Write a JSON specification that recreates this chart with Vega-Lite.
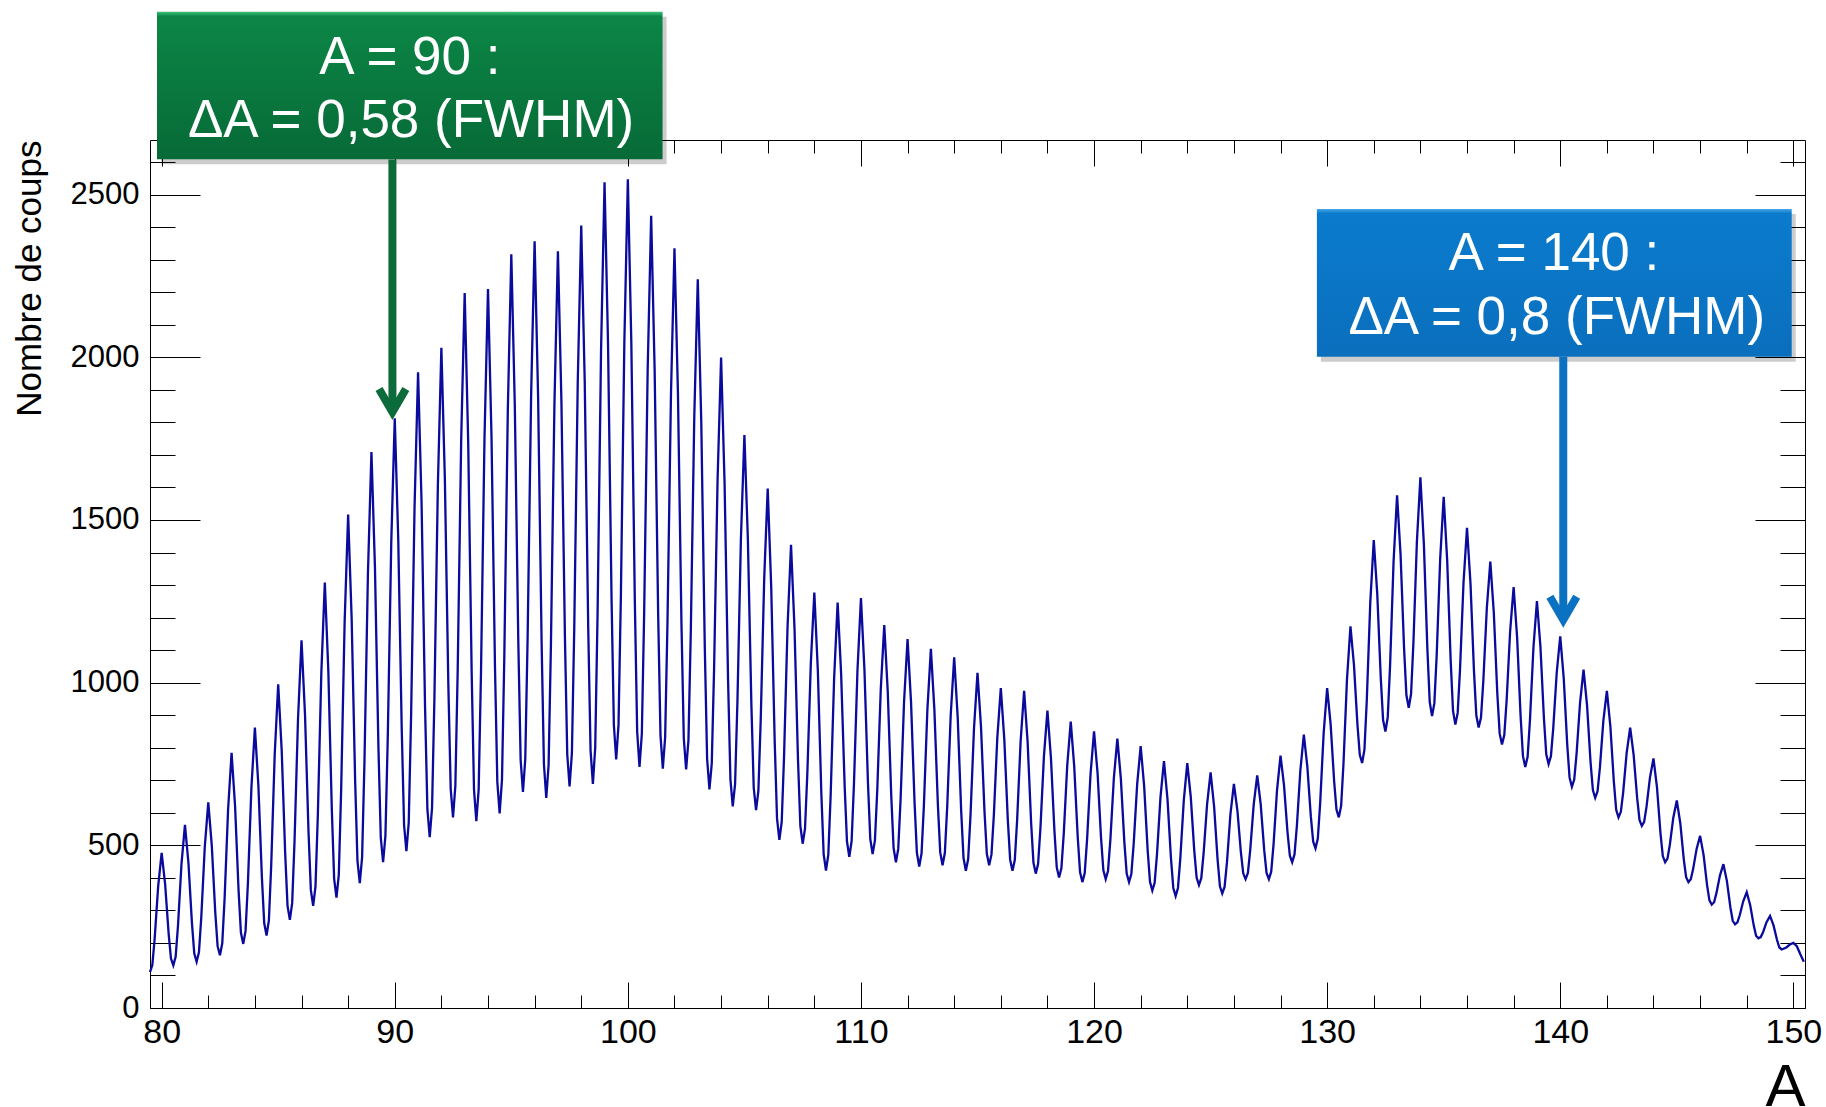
{
  "$schema": "https://vega.github.io/schema/vega-lite/v6.json",
  "width": 1655,
  "height": 868,
  "autosize": "none",
  "padding": {"left": 150, "top": 140, "right": 21, "bottom": 99},
  "background": "white",
  "config": {
    "view": {"stroke": "#000", "strokeWidth": 1},
    "font": "Liberation Sans",
    "axis": {"domain": false, "grid": false, "tickColor": "#000", "tickWidth": 1, "labelFont": "Liberation Sans", "titleFont": "Liberation Sans", "labelColor": "#000", "titleColor": "#000", "titleFontWeight": "normal", "labelOverlap": false, "labelFlush": false}
  },
  "resolve": {"axis": {"x": "independent", "y": "independent"}},
  "layer": [
    {
      "data": {"values": [
        {"a":79.5,"n":110},{"a":79.6,"n":132},{"a":79.7,"n":213},{"a":79.85,"n":374},{"a":80,"n":477},{"a":80.15,"n":380},{"a":80.3,"n":228},{"a":80.4,"n":152},{"a":80.5,"n":131},
        {"a":80.6,"n":157},{"a":80.7,"n":252},{"a":80.85,"n":442},{"a":81,"n":563},{"a":81.15,"n":445},{"a":81.3,"n":260},{"a":81.4,"n":167},{"a":81.5,"n":142},
        {"a":81.6,"n":171},{"a":81.7,"n":279},{"a":81.85,"n":495},{"a":82,"n":632},{"a":82.15,"n":500},{"a":82.3,"n":294},{"a":82.4,"n":190},{"a":82.5,"n":162},
        {"a":82.6,"n":199},{"a":82.7,"n":336},{"a":82.85,"n":610},{"a":83,"n":784},{"a":83.15,"n":620},{"a":83.3,"n":361},{"a":83.4,"n":232},{"a":83.5,"n":197},
        {"a":83.6,"n":237},{"a":83.7,"n":383},{"a":83.85,"n":676},{"a":84,"n":862},{"a":84.15,"n":683},{"a":84.3,"n":402},{"a":84.4,"n":261},{"a":84.5,"n":223},
        {"a":84.6,"n":269},{"a":84.7,"n":439},{"a":84.85,"n":779},{"a":85,"n":995},{"a":85.15,"n":792},{"a":85.3,"n":474},{"a":85.4,"n":314},{"a":85.5,"n":271},
        {"a":85.6,"n":323},{"a":85.7,"n":512},{"a":85.85,"n":889},{"a":86,"n":1130},{"a":86.15,"n":902},{"a":86.3,"n":542},{"a":86.4,"n":363},{"a":86.5,"n":314},
        {"a":86.6,"n":374},{"a":86.7,"n":592},{"a":86.85,"n":1030},{"a":87,"n":1308},{"a":87.15,"n":1037},{"a":87.3,"n":610},{"a":87.4,"n":397},{"a":87.5,"n":339},
        {"a":87.6,"n":410},{"a":87.7,"n":669},{"a":87.85,"n":1187},{"a":88,"n":1517},{"a":88.15,"n":1200},{"a":88.3,"n":701},{"a":88.4,"n":452},{"a":88.5,"n":384},
        {"a":88.6,"n":464},{"a":88.7,"n":755},{"a":88.85,"n":1338},{"a":89,"n":1709},{"a":89.15,"n":1356},{"a":89.3,"n":801},{"a":89.4,"n":524},{"a":89.5,"n":448},
        {"a":89.6,"n":530},{"a":89.7,"n":830},{"a":89.85,"n":1431},{"a":90,"n":1813},{"a":90.15,"n":1440},{"a":90.3,"n":855},{"a":90.4,"n":562},{"a":90.5,"n":482},
        {"a":90.6,"n":570},{"a":90.7,"n":894},{"a":90.85,"n":1542},{"a":91,"n":1954},{"a":91.15,"n":1554},{"a":91.3,"n":925},{"a":91.4,"n":611},{"a":91.5,"n":525},
        {"a":91.6,"n":615},{"a":91.7,"n":946},{"a":91.85,"n":1608},{"a":92,"n":2029},{"a":92.15,"n":1625},{"a":92.3,"n":990},{"a":92.4,"n":673},{"a":92.5,"n":586},
        {"a":92.6,"n":683},{"a":92.7,"n":1037},{"a":92.85,"n":1747},{"a":93,"n":2198},{"a":93.15,"n":1743},{"a":93.3,"n":1029},{"a":93.4,"n":671},{"a":93.5,"n":574},
        {"a":93.6,"n":672},{"a":93.7,"n":1032},{"a":93.85,"n":1752},{"a":94,"n":2210},{"a":94.15,"n":1759},{"a":94.3,"n":1049},{"a":94.4,"n":695},{"a":94.5,"n":598},
        {"a":94.6,"n":701},{"a":94.7,"n":1079},{"a":94.85,"n":1836},{"a":95,"n":2317},{"a":95.15,"n":1854},{"a":95.3,"n":1127},{"a":95.4,"n":763},{"a":95.5,"n":664},
        {"a":95.6,"n":766},{"a":95.7,"n":1138},{"a":95.85,"n":1883},{"a":96,"n":2357},{"a":96.15,"n":1878},{"a":96.3,"n":1125},{"a":96.4,"n":749},{"a":96.5,"n":646},
        {"a":96.6,"n":747},{"a":96.7,"n":1116},{"a":96.85,"n":1856},{"a":97,"n":2326},{"a":97.15,"n":1865},{"a":97.3,"n":1142},{"a":97.4,"n":780},{"a":97.5,"n":681},
        {"a":97.6,"n":784},{"a":97.7,"n":1164},{"a":97.85,"n":1922},{"a":98,"n":2405},{"a":98.15,"n":1925},{"a":98.3,"n":1169},{"a":98.4,"n":792},{"a":98.5,"n":689},
        {"a":98.6,"n":800},{"a":98.7,"n":1207},{"a":98.85,"n":2020},{"a":99,"n":2538},{"a":99.15,"n":2041},{"a":99.3,"n":1261},{"a":99.4,"n":870},{"a":99.5,"n":764},
        {"a":99.6,"n":871},{"a":99.7,"n":1263},{"a":99.85,"n":2048},{"a":100,"n":2547},{"a":100.15,"n":2041},{"a":100.3,"n":1247},{"a":100.4,"n":849},{"a":100.5,"n":741},
        {"a":100.6,"n":843},{"a":100.7,"n":1215},{"a":100.85,"n":1961},{"a":101,"n":2435},{"a":101.15,"n":1959},{"a":101.3,"n":1212},{"a":101.4,"n":838},{"a":101.5,"n":736},
        {"a":101.6,"n":832},{"a":101.7,"n":1184},{"a":101.85,"n":1887},{"a":102,"n":2335},{"a":102.15,"n":1886},{"a":102.3,"n":1182},{"a":102.4,"n":829},{"a":102.5,"n":733},
        {"a":102.6,"n":823},{"a":102.7,"n":1155},{"a":102.85,"n":1818},{"a":103,"n":2240},{"a":103.15,"n":1801},{"a":103.3,"n":1111},{"a":103.4,"n":766},{"a":103.5,"n":672},
        {"a":103.6,"n":752},{"a":103.7,"n":1044},{"a":103.85,"n":1627},{"a":104,"n":1999},{"a":104.15,"n":1613},{"a":104.3,"n":1006},{"a":104.4,"n":703},{"a":104.5,"n":620},
        {"a":104.6,"n":688},{"a":104.7,"n":939},{"a":104.85,"n":1442},{"a":105,"n":1761},{"a":105.15,"n":1438},{"a":105.3,"n":931},{"a":105.4,"n":677},{"a":105.5,"n":608},
        {"a":105.6,"n":667},{"a":105.7,"n":885},{"a":105.85,"n":1320},{"a":106,"n":1597},{"a":106.15,"n":1295},{"a":106.3,"n":819},{"a":106.4,"n":582},{"a":106.5,"n":517},
        {"a":106.6,"n":571},{"a":106.7,"n":771},{"a":106.85,"n":1170},{"a":107,"n":1424},{"a":107.15,"n":1167},{"a":107.3,"n":762},{"a":107.4,"n":560},{"a":107.5,"n":505},
        {"a":107.6,"n":551},{"a":107.7,"n":721},{"a":107.85,"n":1061},{"a":108,"n":1277},{"a":108.15,"n":1038},{"a":108.3,"n":661},{"a":108.4,"n":473},{"a":108.5,"n":422},
        {"a":108.6,"n":471},{"a":108.7,"n":653},{"a":108.85,"n":1015},{"a":109,"n":1246},{"a":109.15,"n":1027},{"a":109.3,"n":684},{"a":109.4,"n":512},{"a":109.5,"n":465},
        {"a":109.6,"n":513},{"a":109.7,"n":688},{"a":109.85,"n":1037},{"a":110,"n":1260},{"a":110.15,"n":1040},{"a":110.3,"n":693},{"a":110.4,"n":520},{"a":110.5,"n":473},
        {"a":110.6,"n":515},{"a":110.7,"n":670},{"a":110.85,"n":980},{"a":111,"n":1177},{"a":111.15,"n":973},{"a":111.3,"n":652},{"a":111.4,"n":492},{"a":111.5,"n":448},
        {"a":111.6,"n":489},{"a":111.7,"n":640},{"a":111.85,"n":942},{"a":112,"n":1134},{"a":112.15,"n":938},{"a":112.3,"n":631},{"a":112.4,"n":477},{"a":112.5,"n":435},
        {"a":112.6,"n":475},{"a":112.7,"n":622},{"a":112.85,"n":917},{"a":113,"n":1104},{"a":113.15,"n":918},{"a":113.3,"n":625},{"a":113.4,"n":479},{"a":113.5,"n":439},
        {"a":113.6,"n":477},{"a":113.7,"n":618},{"a":113.85,"n":899},{"a":114,"n":1078},{"a":114.15,"n":894},{"a":114.3,"n":606},{"a":114.4,"n":461},{"a":114.5,"n":422},
        {"a":114.6,"n":458},{"a":114.7,"n":592},{"a":114.85,"n":860},{"a":115,"n":1030},{"a":115.15,"n":865},{"a":115.3,"n":604},{"a":115.4,"n":474},{"a":115.5,"n":439},
        {"a":115.6,"n":472},{"a":115.7,"n":591},{"a":115.85,"n":831},{"a":116,"n":983},{"a":116.15,"n":826},{"a":116.3,"n":579},{"a":116.4,"n":456},{"a":116.5,"n":422},
        {"a":116.6,"n":455},{"a":116.7,"n":577},{"a":116.85,"n":820},{"a":117,"n":975},{"a":117.15,"n":818},{"a":117.3,"n":570},{"a":117.4,"n":447},{"a":117.5,"n":413},
        {"a":117.6,"n":443},{"a":117.7,"n":553},{"a":117.85,"n":774},{"a":118,"n":914},{"a":118.15,"n":770},{"a":118.3,"n":545},{"a":118.4,"n":432},{"a":118.5,"n":401},
        {"a":118.6,"n":430},{"a":118.7,"n":535},{"a":118.85,"n":746},{"a":119,"n":880},{"a":119.15,"n":742},{"a":119.3,"n":525},{"a":119.4,"n":417},{"a":119.5,"n":387},
        {"a":119.6,"n":415},{"a":119.7,"n":517},{"a":119.85,"n":720},{"a":120,"n":850},{"a":120.15,"n":723},{"a":120.3,"n":523},{"a":120.4,"n":423},{"a":120.5,"n":396},
        {"a":120.6,"n":422},{"a":120.7,"n":517},{"a":120.85,"n":707},{"a":121,"n":828},{"a":121.15,"n":705},{"a":121.3,"n":510},{"a":121.4,"n":413},{"a":121.5,"n":387},
        {"a":121.6,"n":412},{"a":121.7,"n":504},{"a":121.85,"n":688},{"a":122,"n":805},{"a":122.15,"n":681},{"a":122.3,"n":485},{"a":122.4,"n":388},{"a":122.5,"n":361},
        {"a":122.6,"n":385},{"a":122.7,"n":472},{"a":122.85,"n":648},{"a":123,"n":759},{"a":123.15,"n":643},{"a":123.3,"n":460},{"a":123.4,"n":369},{"a":123.5,"n":344},
        {"a":123.6,"n":369},{"a":123.7,"n":459},{"a":123.85,"n":638},{"a":124,"n":753},{"a":124.15,"n":648},{"a":124.3,"n":483},{"a":124.4,"n":401},{"a":124.5,"n":378},
        {"a":124.6,"n":399},{"a":124.7,"n":475},{"a":124.85,"n":627},{"a":125,"n":724},{"a":125.15,"n":620},{"a":125.3,"n":456},{"a":125.4,"n":374},{"a":125.5,"n":352},
        {"a":125.6,"n":372},{"a":125.7,"n":446},{"a":125.85,"n":595},{"a":126,"n":689},{"a":126.15,"n":607},{"a":126.3,"n":478},{"a":126.4,"n":414},{"a":126.5,"n":396},
        {"a":126.6,"n":415},{"a":126.7,"n":485},{"a":126.85,"n":626},{"a":127,"n":715},{"a":127.15,"n":626},{"a":127.3,"n":485},{"a":127.4,"n":415},{"a":127.5,"n":396},
        {"a":127.6,"n":419},{"a":127.7,"n":502},{"a":127.85,"n":670},{"a":128,"n":776},{"a":128.15,"n":684},{"a":128.3,"n":540},{"a":128.4,"n":468},{"a":128.5,"n":448},
        {"a":128.6,"n":472},{"a":128.7,"n":558},{"a":128.85,"n":730},{"a":129,"n":840},{"a":129.15,"n":742},{"a":129.3,"n":589},{"a":129.4,"n":512},{"a":129.5,"n":491},
        {"a":129.6,"n":521},{"a":129.7,"n":629},{"a":129.85,"n":845},{"a":130,"n":983},{"a":130.15,"n":872},{"a":130.3,"n":697},{"a":130.4,"n":610},{"a":130.5,"n":586},
        {"a":130.6,"n":621},{"a":130.7,"n":750},{"a":130.85,"n":1009},{"a":131,"n":1173},{"a":131.15,"n":1055},{"a":131.3,"n":871},{"a":131.4,"n":778},{"a":131.5,"n":753},
        {"a":131.6,"n":794},{"a":131.7,"n":945},{"a":131.85,"n":1246},{"a":132,"n":1438},{"a":132.15,"n":1273},{"a":132.3,"n":1015},{"a":132.4,"n":885},{"a":132.5,"n":850},
        {"a":132.6,"n":894},{"a":132.7,"n":1053},{"a":132.85,"n":1373},{"a":133,"n":1576},{"a":133.15,"n":1393},{"a":133.3,"n":1106},{"a":133.4,"n":962},{"a":133.5,"n":923},
        {"a":133.6,"n":965},{"a":133.7,"n":1121},{"a":133.85,"n":1433},{"a":134,"n":1631},{"a":134.15,"n":1425},{"a":134.3,"n":1103},{"a":134.4,"n":941},{"a":134.5,"n":897},
        {"a":134.6,"n":937},{"a":134.7,"n":1086},{"a":134.85,"n":1382},{"a":135,"n":1571},{"a":135.15,"n":1375},{"a":135.3,"n":1067},{"a":135.4,"n":913},{"a":135.5,"n":871},
        {"a":135.6,"n":907},{"a":135.7,"n":1040},{"a":135.85,"n":1307},{"a":136,"n":1476},{"a":136.15,"n":1304},{"a":136.3,"n":1034},{"a":136.4,"n":899},{"a":136.5,"n":862},
        {"a":136.6,"n":893},{"a":136.7,"n":1005},{"a":136.85,"n":1229},{"a":137,"n":1372},{"a":137.15,"n":1215},{"a":137.3,"n":967},{"a":137.4,"n":844},{"a":137.5,"n":810},
        {"a":137.6,"n":839},{"a":137.7,"n":946},{"a":137.85,"n":1158},{"a":138,"n":1294},{"a":138.15,"n":1139},{"a":138.3,"n":896},{"a":138.4,"n":774},{"a":138.5,"n":741},
        {"a":138.6,"n":772},{"a":138.7,"n":884},{"a":138.85,"n":1108},{"a":139,"n":1251},{"a":139.15,"n":1111},{"a":139.3,"n":890},{"a":139.4,"n":780},{"a":139.5,"n":750},
        {"a":139.6,"n":774},{"a":139.7,"n":860},{"a":139.85,"n":1032},{"a":140,"n":1142},{"a":140.15,"n":1013},{"a":140.3,"n":809},{"a":140.4,"n":708},{"a":140.5,"n":680},
        {"a":140.6,"n":702},{"a":140.7,"n":781},{"a":140.85,"n":939},{"a":141,"n":1040},{"a":141.15,"n":930},{"a":141.3,"n":756},{"a":141.4,"n":670},{"a":141.5,"n":646},
        {"a":141.6,"n":666},{"a":141.7,"n":738},{"a":141.85,"n":883},{"a":142,"n":975},{"a":142.15,"n":866},{"a":142.3,"n":695},{"a":142.4,"n":609},{"a":142.5,"n":586},
        {"a":142.6,"n":603},{"a":142.7,"n":663},{"a":142.85,"n":785},{"a":143,"n":862},{"a":143.15,"n":777},{"a":143.3,"n":645},{"a":143.4,"n":578},{"a":143.5,"n":560},
        {"a":143.6,"n":572},{"a":143.7,"n":618},{"a":143.85,"n":709},{"a":144,"n":767},{"a":144.15,"n":678},{"a":144.3,"n":537},{"a":144.4,"n":467},{"a":144.5,"n":448},
        {"a":144.6,"n":459},{"a":144.7,"n":501},{"a":144.85,"n":585},{"a":145,"n":638},{"a":145.15,"n":568},{"a":145.3,"n":457},{"a":145.4,"n":402},{"a":145.5,"n":387},
        {"a":145.6,"n":396},{"a":145.7,"n":427},{"a":145.85,"n":489},{"a":146,"n":529},{"a":146.15,"n":470},{"a":146.3,"n":377},{"a":146.4,"n":331},{"a":146.5,"n":318},
        {"a":146.6,"n":325},{"a":146.7,"n":353},{"a":146.85,"n":407},{"a":147,"n":442},{"a":147.15,"n":390},{"a":147.3,"n":309},{"a":147.4,"n":268},{"a":147.5,"n":257},
        {"a":147.6,"n":263},{"a":147.7,"n":285},{"a":147.85,"n":328},{"a":148,"n":356},{"a":148.15,"n":316},{"a":148.3,"n":254},{"a":148.4,"n":222},{"a":148.5,"n":214},
        {"a":148.6,"n":218},{"a":148.7,"n":233},{"a":148.85,"n":264},{"a":149,"n":283},{"a":149.15,"n":254},{"a":149.3,"n":209},{"a":149.4,"n":186},{"a":149.5,"n":180},
        {"a":149.7,"n":186},{"a":149.85,"n":195},{"a":150,"n":200},{"a":150.15,"n":190},{"a":150.3,"n":165},{"a":150.45,"n":142}
      ]},
      "mark": {"type": "line", "color": "#0a0a9c", "strokeWidth": 2.3},
      "encoding": {
        "x": {"field": "a", "type": "quantitative", "scale": {"domain": [79.5, 150.5], "nice": false, "zero": false},
          "axis": {"orient": "bottom", "values": [80,82,84,86,88,90,92,94,96,98,100,102,104,106,108,110,112,114,116,118,120,122,124,126,128,130,132,134,136,138,140,142,144,146,148,150],
            "format": "d", "labelExpr": "datum.value % 10 === 0 ? datum.label : ''", "labelFontSize": 34, "labelBaseline": "top", "labelPadding": 33.5,
            "tickSize": {"condition": {"test": "datum.value % 10 === 0", "value": -26}, "value": -13},
            "title": "A", "titleFontSize": 60, "titleAnchor": "end", "titleAlign": "right", "titleBaseline": "alphabetic", "titleX": 1655, "titleY": 97}},
        "y": {"field": "n", "type": "quantitative", "scale": {"domain": [0, 2668], "nice": false, "zero": false},
          "axis": {"orient": "left", "values": [0,100,200,300,400,500,600,700,800,900,1000,1100,1200,1300,1400,1500,1600,1700,1800,1900,2000,2100,2200,2300,2400,2500,2600],
            "format": "d", "labelExpr": "datum.value % 500 === 0 ? datum.label : ''", "labelFontSize": 31, "labelPadding": 61,
            "tickSize": {"condition": {"test": "datum.value % 500 === 0", "value": -50}, "value": -25},
            "title": "Nombre de coups", "titleFontSize": 35, "titleAngle": -90, "titleAnchor": "end", "titleAlign": "right", "titleBaseline": "alphabetic", "titleX": -109.5, "titleY": 0}}
      }
    },
    {
      "data": {"values": [{}]},
      "mark": {"type": "rect", "color": "#000", "opacity": 0.2, "xOffset": 4, "x2Offset": 4, "yOffset": 5, "y2Offset": 5},
      "encoding": {
        "x": {"datum": 79.8, "type": "quantitative",
          "axis": {"orient": "top", "values": [80,82,84,86,88,90,92,94,96,98,100,102,104,106,108,110,112,114,116,118,120,122,124,126,128,130,132,134,136,138,140,142,144,146,148,150],
            "labels": false, "title": null, "tickSize": {"condition": {"test": "datum.value % 10 === 0", "value": -26}, "value": -13}}},
        "x2": {"datum": 101.49},
        "y": {"datum": 3062, "type": "quantitative",
          "axis": {"orient": "right", "values": [0,100,200,300,400,500,600,700,800,900,1000,1100,1200,1300,1400,1500,1600,1700,1800,1900,2000,2100,2200,2300,2400,2500,2600],
            "labels": false, "title": null, "tickSize": {"condition": {"test": "datum.value % 500 === 0", "value": -50}, "value": -25}}},
        "y2": {"datum": 2608.7}
      }
    },
    {
      "data": {"values": [{}]},
      "mark": {"type": "rect", "color": {"gradient": "linear", "x1": 0, "y1": 0, "x2": 0, "y2": 1, "stops": [{"offset": 0, "color": "#3cbf78"}, {"offset": 0.03, "color": "#0c8646"}, {"offset": 1, "color": "#076a37"}]}},
      "encoding": {
        "x": {"datum": 79.8, "type": "quantitative", "axis": null},
        "x2": {"datum": 101.49},
        "y": {"datum": 3062, "type": "quantitative", "axis": null},
        "y2": {"datum": 2608.7}
      }
    },
    {
      "data": {"values": [{}]},
      "mark": {"type": "rect", "color": "#000", "opacity": 0.2, "xOffset": 4, "x2Offset": 4, "yOffset": 5, "y2Offset": 5},
      "encoding": {
        "x": {"datum": 129.56, "type": "quantitative", "axis": null},
        "x2": {"datum": 149.93},
        "y": {"datum": 2456, "type": "quantitative", "axis": null},
        "y2": {"datum": 2002}
      }
    },
    {
      "data": {"values": [{}]},
      "mark": {"type": "rect", "color": {"gradient": "linear", "x1": 0, "y1": 0, "x2": 0, "y2": 1, "stops": [{"offset": 0, "color": "#4aa6e8"}, {"offset": 0.03, "color": "#0b7bcd"}, {"offset": 1, "color": "#0a6fbd"}]}},
      "encoding": {
        "x": {"datum": 129.56, "type": "quantitative", "axis": null},
        "x2": {"datum": 149.93},
        "y": {"datum": 2456, "type": "quantitative", "axis": null},
        "y2": {"datum": 2002}
      }
    },
    {
      "data": {"values": [{}]},
      "mark": {"type": "text", "text": "A = 90 :", "font": "Liberation Sans", "fontSize": 53, "color": "#ffffff", "align": "center", "baseline": "alphabetic"},
      "encoding": {"x": {"datum": 90.65, "type": "quantitative", "axis": null}, "y": {"datum": 2871, "type": "quantitative", "axis": null}}
    },
    {
      "data": {"values": [{}]},
      "mark": {"type": "text", "text": "ΔA = 0,58 (FWHM)", "font": "Liberation Sans", "fontSize": 53, "color": "#ffffff", "align": "center", "baseline": "alphabetic"},
      "encoding": {"x": {"datum": 90.7, "type": "quantitative", "axis": null}, "y": {"datum": 2678, "type": "quantitative", "axis": null}}
    },
    {
      "data": {"values": [{}]},
      "mark": {"type": "text", "text": "A = 140 :", "font": "Liberation Sans", "fontSize": 53, "color": "#ffffff", "align": "center", "baseline": "alphabetic"},
      "encoding": {"x": {"datum": 139.73, "type": "quantitative", "axis": null}, "y": {"datum": 2269, "type": "quantitative", "axis": null}}
    },
    {
      "data": {"values": [{}]},
      "mark": {"type": "text", "text": "ΔA = 0,8 (FWHM)", "font": "Liberation Sans", "fontSize": 53, "color": "#ffffff", "align": "center", "baseline": "alphabetic"},
      "encoding": {"x": {"datum": 139.85, "type": "quantitative", "axis": null}, "y": {"datum": 2072, "type": "quantitative", "axis": null}}
    },
    {
      "data": {"values": [{}]},
      "mark": {"type": "rule", "color": "#0b6b3a", "strokeWidth": 8, "strokeCap": "butt"},
      "encoding": {"x": {"datum": 89.9, "type": "quantitative", "axis": null}, "y": {"datum": 2608, "type": "quantitative", "axis": null}, "y2": {"datum": 1840}}
    },
    {
      "data": {"values": [{}]},
      "mark": {"type": "point", "shape": "M-1,-1.72L0,0L1,-1.72", "size": 718, "filled": false, "stroke": "#0b6b3a", "strokeWidth": 8, "strokeJoin": "miter", "strokeCap": "butt", "opacity": 1},
      "encoding": {"x": {"datum": 89.9, "type": "quantitative", "axis": null}, "y": {"datum": 1832, "type": "quantitative", "axis": null}}
    },
    {
      "data": {"values": [{}]},
      "mark": {"type": "rule", "color": "#0b72c2", "strokeWidth": 8, "strokeCap": "butt"},
      "encoding": {"x": {"datum": 140.13, "type": "quantitative", "axis": null}, "y": {"datum": 2002, "type": "quantitative", "axis": null}, "y2": {"datum": 1200}}
    },
    {
      "data": {"values": [{}]},
      "mark": {"type": "point", "shape": "M-1,-1.72L0,0L1,-1.72", "size": 718, "filled": false, "stroke": "#0b72c2", "strokeWidth": 8, "strokeJoin": "miter", "strokeCap": "butt", "opacity": 1},
      "encoding": {"x": {"datum": 140.13, "type": "quantitative", "axis": null}, "y": {"datum": 1193, "type": "quantitative", "axis": null}}
    }
  ]
}
